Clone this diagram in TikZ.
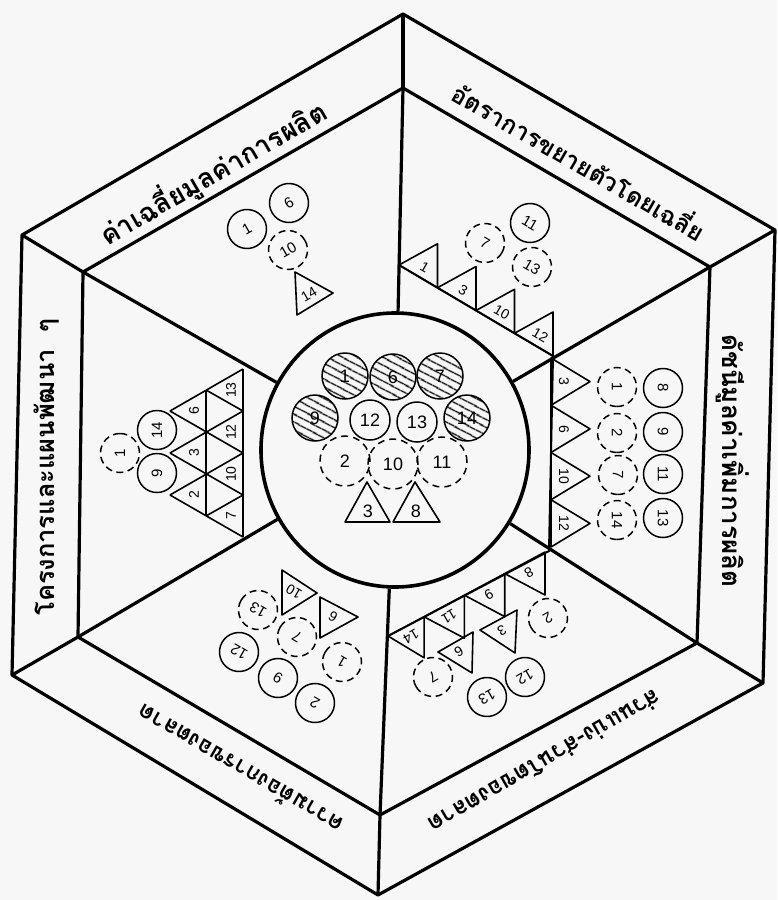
\documentclass[tikz,border=0pt]{standalone}
\usepackage{fontspec}
\newfontfamily\thaifont[Script=Thai]{Loma}
\newfontfamily\numfont{Liberation Sans}
\usetikzlibrary{patterns.meta,shapes.geometric}
\begin{document}
\begin{tikzpicture}[x=1pt,y=-1pt,
  frame/.style={line width=3.2pt, line join=round},
  midline/.style={line width=2pt},
  tri/.style={draw, line width=1.6pt, line join=round},
  ring/.style={circle, draw, line width=1.5pt, inner sep=0pt, minimum size=39pt, font=\numfont\fontsize{15}{15}\selectfont},
  dring/.style={ring, dash pattern=on 7pt off 4.5pt},
  bigring/.style={ring, minimum size=40pt, font=\numfont\fontsize{18}{18}\selectfont},
  hring/.style={bigring, minimum size=46pt, pattern={Lines[angle=-28,distance=6.5pt,line width=1.5pt]}},
  dbig/.style={bigring, minimum size=50pt, dash pattern=on 7pt off 5pt},
  tlab/.style={inner sep=0pt, font=\numfont\fontsize{14}{14}\selectfont},
  ctlab/.style={inner sep=0pt, font=\numfont\fontsize{18}{18}\selectfont},
  band/.style={inner sep=0pt, font=\thaifont\bfseries\fontsize{#1}{#1}\selectfont},
  band/.default=24,
]
\useasboundingbox (0,0) rectangle (777,900);
\fill[black!3] (0,0) rectangle (777,900);

% hexagons
\coordinate (O1) at (403,14);  \coordinate (O2) at (775,230);
\coordinate (O3) at (763,683); \coordinate (O4) at (378,895);
\coordinate (O5) at (12,675);  \coordinate (O6) at (22,235);
\coordinate (I1) at (403,88);  \coordinate (I2) at (710,267);
\coordinate (I3) at (697,643); \coordinate (I4) at (380,815);
\coordinate (I5) at (78,637);  \coordinate (I6) at (83,272);
\draw[frame] (O1)--(O2)--(O3)--(O4)--(O5)--(O6)--cycle;
\draw[frame] (I1)--(I2)--(I3)--(I4)--(I5)--(I6)--cycle;
\foreach \k in {1,...,6} {\draw[frame] (O\k)--(I\k);}

% central circle
\node[ellipse, draw, line width=3.6pt, minimum width=268pt, minimum height=274pt, inner sep=0pt] (ctr) at (395,450) {};
\foreach \k in {1,...,6} {\draw[frame] (I\k)--(ctr);}

% mid lines
\coordinate (M1) at (399,265); \coordinate (M2) at (553,356);
\coordinate (M3) at (549,551); \coordinate (M4) at (388,636);
\coordinate (M5) at (243,369); \coordinate (M6) at (243,537);
\draw[midline] (M1)--(M2)--(M3)--(M4);
\draw[midline] (M5)--(M6);

% band labels
\node[band=27, rotate=30] (lTL) at (213,173) {ค่าเฉลี่ยมูลค่าการผลิต};
\node[band=24.5, rotate=-30] (lTR) at (580,160) {อัตราการขยายตัวโดยเฉลี่ย};
\node[band=26, rotate=-90] (lR) at (733,461) {ดัชนีมูลค่าเพิ่มการผลิต};
\node[band=23.5, rotate=-150] (lBR) at (545,762) {ส่วนแบ่ง-ส่วนโตของตลาด};
\node[band=23, rotate=150] (lBL) at (240,770) {ความต้องการของตลาด};
\node[band=25.5, rotate=90] (lL) at (47,467) {โครงการและแผนพัฒนา~~ๆ};

% centre
\node[hring] (cH1) at (345,376) {1};
\node[hring] (cH6) at (393,377) {6};
\node[hring] (cH7) at (440,376) {7};
\node[hring] (cH9) at (315,418) {9};
\node[hring] (cH14) at (467,418) {14};
\node[bigring] (cS12) at (370,420) {12};
\node[bigring] (cS13) at (417,422) {13};
\node[dbig] (cD2) at (345,461) {2};
\node[dbig] (cD10) at (393,464) {10};
\node[dbig] (cD11) at (442,462) {11};
\draw[tri] (367,482)--(390,522)--(345,522)--cycle;
\draw[tri] (415,482)--(440,522)--(393,522)--cycle;
\node[ctlab] (cT3) at (368,511) {3};
\node[ctlab] (cT8) at (416,511) {8};

% top-left sector
\node[ring, rotate=30] (tlS1) at (247,229) {1};
\node[ring, rotate=30] (tlS6) at (289,203) {6};
\node[dring, rotate=30] (tlD10) at (288,250) {10};
\draw[tri] (295,272)--(333,293)--(297,315)--cycle;
\node[tlab, rotate=30] (tlT14) at (309,294) {14};

% top-right sector
\node[ring, rotate=-30] (trS11) at (530,223) {11};
\node[dring, rotate=-30] (trD7) at (485,243) {7};
\node[dring, rotate=-30] (trD13) at (532,267) {13};
\draw[tri] (399,265)--(437.5,287.75)--(437.5,243.75)--cycle;
\draw[tri] (437.5,287.75)--(476,310.5)--(476,266.5)--cycle;
\draw[tri] (476,310.5)--(514.5,333.25)--(514.5,289.25)--cycle;
\draw[tri] (514.5,333.25)--(553,356)--(553,312)--cycle;
\node[tlab, rotate=-30] (trT1) at (424.7,267) {1};
\node[tlab, rotate=-30] (trT3) at (463.2,290) {3};
\node[tlab, rotate=-30] (trT10) at (501.7,312.5) {10};
\node[tlab, rotate=-30] (trT12) at (540.2,335) {12};

% right sector
\node[ring, rotate=-90] (rS8) at (663,388) {8};
\node[ring, rotate=-90] (rS9) at (663,432) {9};
\node[ring, rotate=-90] (rS11) at (663,474) {11};
\node[ring, rotate=-90] (rS13) at (663,518) {13};
\node[dring, rotate=-90] (rD1) at (617,387) {1};
\node[dring, rotate=-90] (rD2) at (617,433) {2};
\node[dring, rotate=-90] (rD7) at (618,475) {7};
\node[dring, rotate=-90] (rD14) at (617,520) {14};
\draw[tri] (551,358)--(590,381.6)--(551,405.25)--cycle;
\draw[tri] (551,405.25)--(590,428.9)--(551,452.5)--cycle;
\draw[tri] (551,452.5)--(590,476.1)--(551,499.75)--cycle;
\draw[tri] (551,499.75)--(590,523.4)--(551,547)--cycle;
\node[tlab, rotate=-90] (rT3) at (564,381.6) {3};
\node[tlab, rotate=-90] (rT6) at (564,428.9) {6};
\node[tlab, rotate=-90] (rT10) at (564,476.1) {10};
\node[tlab, rotate=-90] (rT12) at (564,523.4) {12};

% bottom-right sector
\node[dring, rotate=-150] (brD2) at (548,618) {2};
\node[dring, rotate=-150] (brD7) at (433,677) {7};
\node[ring, rotate=-150] (brS12) at (525,677) {12};
\node[ring, rotate=-150] (brS13) at (487,697) {13};
\draw[tri] (545,552)--(504.7,573.6)--(545,595)--cycle;
\draw[tri] (504.7,573.6)--(464.4,595.2)--(504.7,616.6)--cycle;
\draw[tri] (464.4,595.2)--(424.1,616.8)--(464.4,638.2)--cycle;
\draw[tri] (424.1,616.8)--(388,636)--(424.1,657.8)--cycle;
\draw[tri] (517,610)--(480,630)--(515,653)--cycle;
\draw[tri] (473,632)--(438,652)--(472,673)--cycle;
\node[tlab, rotate=-150] (brT8) at (529,573) {8};
\node[tlab, rotate=-150] (brT9) at (489,595) {9};
\node[tlab, rotate=-150] (brT11) at (449,616.5) {11};
\node[tlab, rotate=-150] (brT14) at (411,637) {14};
\node[tlab, rotate=-150] (brT3) at (502,631) {3};
\node[tlab, rotate=-150] (brT6) at (459,652) {6};

% bottom-left sector
\node[dring, rotate=150] (blD13) at (258,610) {13};
\node[dring, rotate=150] (blD7) at (297,637) {7};
\node[dring, rotate=150] (blD1) at (342,662) {1};
\node[ring, rotate=150] (blS12) at (239,652) {12};
\node[ring, rotate=150] (blS9) at (278,678) {9};
\node[ring, rotate=150] (blS2) at (315,703) {2};
\draw[tri] (282,570)--(317,593)--(282,615)--cycle;
\draw[tri] (320,597)--(358,617)--(320,638)--cycle;
\node[tlab, rotate=150] (blT10) at (294,592) {10};
\node[tlab, rotate=150] (blT6) at (333,617) {6};

% left sector lattice
\draw[tri] (206,390)--(206,516);
\draw[tri] (243,369)--(170,411);
\draw[tri] (243,411)--(170,453);
\draw[tri] (243,453)--(170,495);
\draw[tri] (243,495)--(206,516);
\draw[tri] (206,390)--(243,411);
\draw[tri] (170,411)--(243,453);
\draw[tri] (170,453)--(243,495);
\draw[tri] (170,495)--(243,537);
\node[tlab, rotate=90] (lT13) at (231,390) {13};
\node[tlab, rotate=90] (lT12) at (231,432) {12};
\node[tlab, rotate=90] (lT10) at (231,474) {10};
\node[tlab, rotate=90] (lT7) at (231,516) {7};
\node[tlab, rotate=90] (lT6) at (194,411) {6};
\node[tlab, rotate=90] (lT3) at (194,453) {3};
\node[tlab, rotate=90] (lT2) at (194,495) {2};
\node[ring, rotate=90] (lS14) at (157,430) {14};
\node[ring, rotate=90] (lS9) at (157,473) {9};
\node[dring, rotate=90] (lD1) at (120,453) {1};
\end{tikzpicture}
\end{document}
